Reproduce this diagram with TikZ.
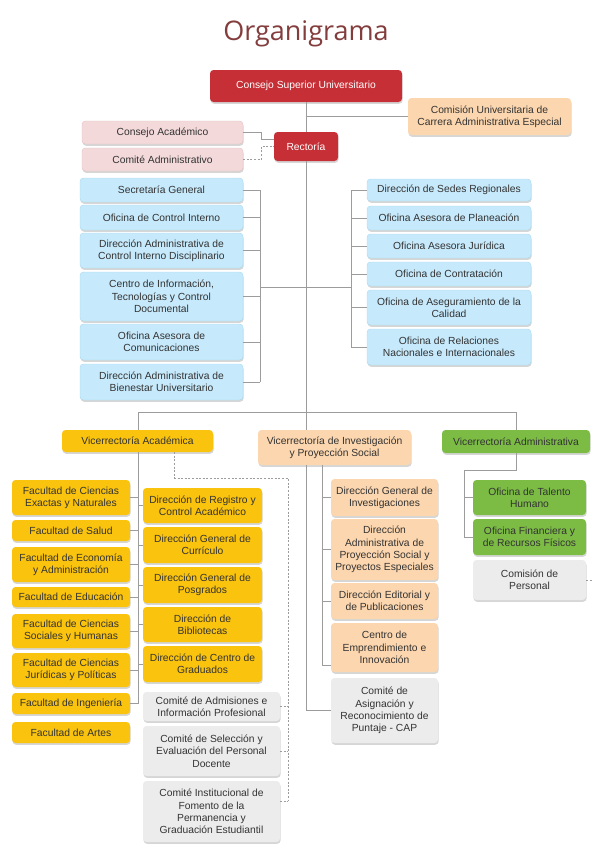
\documentclass[tikz,border=0pt]{standalone}
\usepackage{fontspec}
\setmainfont{Liberation Sans}
\newfontfamily\titlefont{Open Sans}
\usetikzlibrary{shadows}
\definecolor{cred}{HTML}{C62F35}
\definecolor{cpink}{HTML}{F3D9DA}
\definecolor{cpinkd}{HTML}{E6C3C5}
\definecolor{cblue}{HTML}{C6E9FB}
\definecolor{cblued}{HTML}{A8DAF3}
\definecolor{cpeach}{HTML}{FCD6AE}
\definecolor{cyel}{HTML}{FAC30E}
\definecolor{cgrn}{HTML}{7CBC45}
\definecolor{cgray}{HTML}{ECECEC}
\definecolor{cline}{HTML}{9C9C9C}
\definecolor{ctxt}{HTML}{333333}
\definecolor{ctitle}{HTML}{843D3D}
\newcommand\orgbox[7]{%
  \pgfmathsetmacro\obW{#5-#3}%
  \pgfmathsetmacro\obH{#6-#4}%
  \pgfmathsetmacro\obX{(#3+#5)/2}%
  \pgfmathsetmacro\obY{(#4+#6)/2}%
  \node[box,#2,minimum width=\obW pt,minimum height=\obH pt] (#1) at (\obX,\obY) {#7};}
\tikzset{
  box/.style={rounded corners=3.5pt, align=center, inner sep=1pt, text=ctxt,
    font=\fontsize{10.3}{12.3}\selectfont,
    drop shadow={opacity=0.32, shadow xshift=0.6pt, shadow yshift=-1.8pt}},
  red/.style={fill=cred, text=white},
  pink/.style={fill=cpink, draw=cpinkd, line width=0.4pt},
  blue/.style={fill=cblue, draw=cblued, line width=0.4pt},
  peach/.style={fill=cpeach},
  yel/.style={fill=cyel},
  grn/.style={fill=cgrn},
  gry/.style={fill=cgray},
  conn/.style={draw=cline, line width=0.6pt},
  dconn/.style={conn, dash pattern=on 2pt off 1.6pt},
}
\begin{document}
\begin{tikzpicture}[x=1pt,y=-1pt]
\useasboundingbox[fill=white] (0,0) rectangle (592,844);
\node[font=\titlefont\fontsize{27}{30}\selectfont, text=ctitle, anchor=base] (title) at (306,40) {Organigrama};

% top
\orgbox{csu}{red}{210}{70}{402}{102}{Consejo Superior Universitario}
\orgbox{comu}{peach}{408}{98}{571}{135}{Comisión Universitaria de\\Carrera Administrativa Especial}
\orgbox{ca}{pink}{82}{121}{243}{144}{Consejo Académico}
\orgbox{cadm}{pink}{82}{148}{243}{171}{Comité Administrativo}
\orgbox{rect}{red}{274}{132}{338}{161}{Rectoría}

% left blue
\orgbox{sg}{blue}{80}{178}{243}{202}{Secretaría General}
\orgbox{oci}{blue}{80}{205}{243}{230}{Oficina de Control Interno}
\orgbox{dacid}{blue}{80}{233}{243}{268}{Dirección Administrativa de\\Control Interno Disciplinario}
\orgbox{citcd}{blue}{80}{272}{243}{321}{Centro de Información,\\Tecnologías y Control\\Documental}
\orgbox{oac}{blue}{80}{324}{243}{360}{Oficina Asesora de\\Comunicaciones}
\orgbox{dabu}{blue}{80}{364}{243}{400}{Dirección Administrativa de\\Bienestar Universitario}

% right blue
\orgbox{dsr}{blue}{367}{179}{531}{201}{Dirección de Sedes Regionales}
\orgbox{oap}{blue}{367}{206}{531}{230}{Oficina Asesora de Planeación}
\orgbox{oaj}{blue}{367}{234}{531}{258}{Oficina Asesora Jurídica}
\orgbox{odc}{blue}{367}{262}{531}{286}{Oficina de Contratación}
\orgbox{oac2}{blue}{367}{290}{531}{325}{Oficina de Aseguramiento de la\\Calidad}
\orgbox{orni}{blue}{367}{329}{531}{365}{Oficina de Relaciones\\Nacionales e Internacionales}

% vicerrectorias
\orgbox{vacad}{yel}{62}{430}{213}{452}{Vicerrectoría Académica}
\orgbox{vinv}{peach}{258}{430}{411}{465}{Vicerrectoría de Investigación\\y Proyección Social}
\orgbox{vadm}{grn}{442}{430}{590}{453}{Vicerrectoría Administrativa}

% faculties
\orgbox{fcen}{yel}{12}{480}{130}{515}{Facultad de Ciencias\\Exactas y Naturales}
\orgbox{fsal}{yel}{12}{520}{130}{541}{Facultad de Salud}
\orgbox{feco}{yel}{12}{547}{130}{582}{Facultad de Economía\\y Administración}
\orgbox{fedu}{yel}{12}{587}{130}{607}{Facultad de Educación}
\orgbox{fsoc}{yel}{12}{614}{130}{648}{Facultad de Ciencias\\Sociales y Humanas}
\orgbox{fjur}{yel}{12}{653}{130}{687}{Facultad de Ciencias\\Jurídicas y Políticas}
\orgbox{fing}{yel}{12}{693}{130}{714}{Facultad de Ingeniería}
\orgbox{fart}{yel}{12}{722}{130}{743}{Facultad de Artes}

% direcciones academicas
\orgbox{drca}{yel}{143}{488}{262}{523}{Dirección de Registro y\\Control Académico}
\orgbox{dgc}{yel}{143}{527}{262}{563}{Dirección General de\\Currículo}
\orgbox{dgp}{yel}{143}{567}{262}{603}{Dirección General de\\Posgrados}
\orgbox{dbib}{yel}{143}{607}{262}{642}{Dirección de\\Bibliotecas}
\orgbox{dcg}{yel}{143}{646}{262}{682}{Dirección de Centro de\\Graduados}

% comites academicos
\orgbox{cadmis}{gry}{143}{692}{280}{721}{Comité de Admisiones e\\Información Profesional}
\orgbox{csel}{gry}{143}{726}{280}{776}{Comité de Selección y\\Evaluación del Personal\\Docente}
\orgbox{cinst}{gry}{143}{781}{280}{842}{Comité Institucional de\\Fomento de la\\Permanencia y\\Graduación Estudiantil}

% investigacion
\orgbox{dgi}{peach}{331}{479}{438}{516}{Dirección General de\\Investigaciones}
\orgbox{daps}{peach}{331}{519}{438}{580}{Dirección\\Administrativa de\\Proyección Social y\\Proyectos Especiales}
\orgbox{dep}{peach}{331}{583}{438}{619}{Dirección Editorial y\\de Publicaciones}
\orgbox{cei}{peach}{331}{623}{438}{672}{Centro de\\Emprendimiento e\\Innovación}
\orgbox{cap}{gry}{331}{678}{438}{743}{Comité de\\Asignación y\\Reconocimiento de\\Puntaje - CAP}

% administrativa
\orgbox{oth}{grn}{473}{480}{586}{515}{Oficina de Talento\\Humano}
\orgbox{ofr}{grn}{473}{519}{586}{555}{Oficina Financiera y\\de Recursos Físicos}
\orgbox{cper}{gry}{473}{560}{586}{600}{Comisión de\\Personal}

% ---------- connectors ----------
\coordinate (bus) at (306,412);
\coordinate (busL) at (138,412);
\coordinate (busR) at (516,412);
\coordinate (lb) at (260,287);
\coordinate (rb) at (351,287);
\coordinate (dX) at (288,478);
\coordinate (dEnd) at (288,801);
\coordinate (vi2) at (322,465);
\coordinate (ga) at (464,470);
\coordinate (cpe) at (592,580);
\coordinate (ceiT) at ([yshift=-18pt]cei.west);
\coordinate (cinT) at ([yshift=10pt]cinst.east);
\coordinate (vaD) at ([xshift=37pt]vacad.south);
\coordinate (raT) at ([yshift=7pt]rect.west);

\draw[conn] (csu.south) -- (rect.north);
\draw[conn] (rect.south) -- (bus);
\draw[conn] (csu.south |- comu.west) -- (comu.west);
\draw[conn] (ca.east) -- ++(18,0) |- (raT);
\draw[dconn] (cadm.east) -- ++(18,0) |- (rect.west);

\foreach \b in {sg,oci,dacid,citcd,oac,dabu} \draw[conn] (\b.east) -- (\b.east -| lb);
\draw[conn] (sg.east -| lb) -- (dabu.east -| lb);
\draw[conn] (lb) -- (lb -| bus);

\foreach \b in {dsr,oap,oaj,odc,oac2,orni} \draw[conn] (\b.west) -- (\b.west -| rb);
\draw[conn] (dsr.west -| rb) -- (orni.west -| rb);
\draw[conn] (rb) -- (rb -| bus);

\draw[conn] (busL) -- (busR);
\draw[conn] (busL) -- (busL |- vacad.north);
\draw[conn] (bus) -- (bus |- vinv.north);
\draw[conn] (busR) -- (vadm.north);

% academica
\draw[conn] (busL |- vacad.south) -- (busL |- fing.east);
\foreach \b in {fcen,fsal,feco,fedu,fsoc,fjur,fing} \draw[conn] (\b.east) -- (\b.east -| busL);
\foreach \b in {drca,dgc,dgp,dbib,dcg} \draw[conn] (\b.west) -- (\b.west -| busL);
\draw[dconn] (vaD) |- (dX) -- (dEnd);
\draw[dconn] (cadmis.east) -- (cadmis.east -| dX);
\draw[dconn] (csel.east) -- (csel.east -| dX);
\draw[dconn] (cinT) -- (cinT -| dX);

% investigacion
\draw[conn] (bus |- vinv.south) |- (cap.west);
\draw[conn] (vi2) -- (vi2 |- ceiT);
\foreach \b in {dgi,daps,dep} \draw[conn] (\b.west) -- (\b.west -| vi2);
\draw[conn] (ceiT) -- (ceiT -| vi2);

% administrativa
\draw[conn] (vadm.south) |- (ga) -- (ga |- ofr.west);
\draw[conn] (oth.west) -- (oth.west -| ga);
\draw[conn] (ofr.west) -- (ofr.west -| ga);
\draw[dconn] (cper.east) -- (cper.east -| cpe);
\end{tikzpicture}
\end{document}
